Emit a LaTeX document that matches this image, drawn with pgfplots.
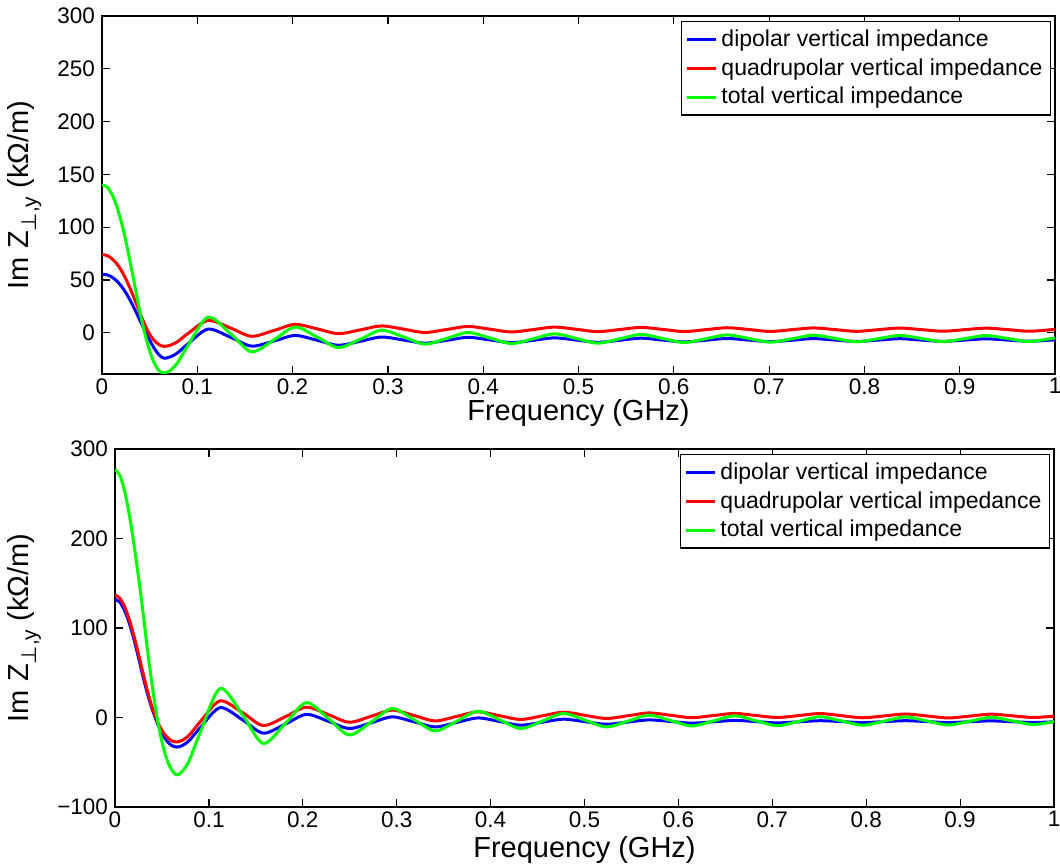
\documentclass[border=0pt]{standalone}
\usepackage{fontspec}
\setmainfont{Liberation Sans}
\newfontfamily\dejavu{DejaVu Sans}
\usepackage{pgfplots}
\pgfplotsset{compat=1.18}
\definecolor{mblue}{rgb}{0,0,1}
\definecolor{mred}{rgb}{1,0,0}
\definecolor{mgreen}{rgb}{0,1,0}
\pgfplotsset{
  mstyle/.style={
    scale only axis, anchor=south west,
    xmin=0, xmax=1, xtick={0,0.1,...,1},
    /pgf/number format/assume math mode=true,
    tick label style={font=\fontsize{11.25}{13.5}\selectfont},
    xticklabel style={inner sep=2pt},
    label style={font=\fontsize{14.5}{17}\selectfont},
    axis line style={line width=0.8pt, black},
    major tick style={line width=0.6pt, black},
    major tick length=4pt,
    tick align=inside,
    xtick pos=both, ytick pos=both,
    legend cell align=left,
    legend style={at={(rel axis cs:1,1)}, anchor=north east, xshift=-2pt, yshift=-2.5pt,
      draw=black, line width=0.6pt, fill=white,
      font=\fontsize{11.5}{13}\selectfont, row sep=0.6pt, inner sep=2pt},
    legend image code/.code={\draw[#1, line width=1.5pt] (0pt,0pt) -- (14.5pt,0pt);},
    every axis plot/.append style={line width=1.5pt, smooth},
    xlabel={Frequency (GHz)},
    ylabel={Im Z\raisebox{-0.55ex}{\fontsize{10.5}{10.5}\selectfont{\dejavu ⊥},y} (kΩ/m)},
  }
}
\begin{document}
\begin{tikzpicture}
\useasboundingbox (0,0) rectangle (530pt,433pt);
% ---------------- top axis ----------------
\begin{axis}[mstyle, at={(51pt,246pt)}, width=476.5pt, height=179pt,
  ymin=-39, ymax=300, ytick={0,50,...,300},
  xlabel style={at={(axis description cs:0.5,-0.108)}, anchor=center, inner sep=0pt},
  ylabel style={at={(axis description cs:-0.0816,0.5)}, anchor=center},
]
\addplot[mblue] table {
0 55.5
0.005 55
0.01 53
0.015 49.5
0.02 44.5
0.025 38
0.03 30
0.035 21
0.04 11.5
0.045 2
0.05 -7
0.055 -15
0.06 -21
0.0647 -24
0.07 -23.3
0.075 -21.4
0.08 -18.5
0.0905 -10.3
0.1113 3.5
0.1358 -4.6
0.1571 -12.6
0.1811 -7.6
0.2027 -2.5
0.2263 -7.2
0.2481 -11.8
0.2716 -7.9
0.2935 -4
0.3169 -6.9
0.3389 -9.8
0.3621 -7.1
0.3842 -4.3
0.4074 -6.8
0.4296 -9.3
0.4527 -7.1
0.4749 -4.8
0.4980 -6.9
0.5202 -9
0.5432 -7.1
0.5654 -5.1
0.5885 -6.9
0.6108 -8.6
0.6337 -7
0.6561 -5.4
0.679 -6.9
0.7013 -8.4
0.7243 -7
0.7465 -5.5
0.7696 -6.9
0.7918 -8.2
0.8149 -6.9
0.8372 -5.6
0.8601 -6.9
0.8824 -8.1
0.9054 -6.9
0.9277 -5.7
0.9506 -6.9
0.9726 -8.0
0.9959 -6.9
1.0 -6.7
};
\addplot[mred] table {
0 74
0.005 73.3
0.01 70.5
0.015 66
0.02 59.5
0.025 51
0.03 41
0.035 30
0.04 18.5
0.045 7.5
0.05 -1.5
0.055 -7.5
0.06 -11.3
0.0647 -12.8
0.07 -12.2
0.075 -10.5
0.08 -7.9
0.0905 -0.5
0.1113 11.7
0.1358 4.2
0.1571 -3.3
0.1811 2.4
0.2027 8
0.2263 3.6
0.2481 -0.8
0.2716 2.9
0.2935 6.5
0.3169 3.4
0.3389 0.3
0.3621 3.2
0.3842 6
0.4074 3.4
0.4296 0.8
0.4527 3.1
0.4749 5.4
0.4980 3.3
0.5202 1.1
0.5432 3.1
0.5654 5.1
0.5885 3.2
0.6108 1.2
0.6337 3
0.6561 4.8
0.679 3.1
0.7013 1.3
0.7243 3
0.7465 4.6
0.7696 3
0.7918 1.4
0.8149 3
0.8372 4.5
0.8601 3
0.8824 1.5
0.9054 3
0.9277 4.4
0.9506 3
0.9726 1.5
0.9959 2.9
1.0 3.1
};
\addplot[mgreen] table {
0 140
0.005 138.3
0.01 132
0.015 121
0.02 106
0.025 87
0.03 65
0.035 42
0.04 19
0.045 -1
0.05 -17
0.055 -29
0.06 -36
0.0647 -38
0.07 -36.7
0.075 -33
0.08 -27.4
0.0905 -11.6
0.1113 14.8
0.1358 -1.6
0.1571 -18
0.1811 -6.3
0.2027 5.5
0.2263 -4.3
0.2481 -14
0.2716 -5.8
0.2935 2.5
0.3169 -4.1
0.3389 -10.7
0.3621 -5.2
0.3842 0.3
0.4074 -5
0.4296 -10.2
0.4527 -5.6
0.4749 -1
0.4980 -5.4
0.5202 -9.8
0.5432 -5.7
0.5654 -1.6
0.5885 -5.4
0.6108 -9.2
0.6337 -5.6
0.6561 -2
0.679 -5.4
0.7013 -8.8
0.7243 -5.6
0.7465 -2.3
0.7696 -5.4
0.7918 -8.5
0.8149 -5.5
0.8372 -2.5
0.8601 -5.4
0.8824 -8.3
0.9054 -5.5
0.9277 -2.6
0.9506 -5.4
0.9726 -8.2
0.9959 -5.4
1.0 -5
};
\legend{dipolar vertical impedance, quadrupolar vertical impedance, total vertical impedance}
\end{axis}
% ---------------- bottom axis ----------------
\begin{axis}[mstyle, at={(57.5pt,29.5pt)}, width=469.5pt, height=179pt,
  ymin=-100, ymax=300, ytick={-100,0,100,200,300},
  yticklabels={−100,0,100,200,300},
  xlabel style={at={(axis description cs:0.5,-0.120)}, anchor=center, inner sep=0pt},
  ylabel style={at={(axis description cs:-0.0968,0.5)}, anchor=center},
]
\addplot[mblue] table {
0 132
0.005 129
0.01 120
0.015 106
0.02 88
0.025 67
0.03 45
0.035 25
0.04 8
0.045 -6
0.05 -17.5
0.055 -26
0.06 -31
0.0651 -33
0.07 -32.1
0.075 -29.2
0.08 -24.7
0.0911 -11
0.1120 11
0.1366 -3.2
0.1580 -17.5
0.1821 -7
0.2039 3.5
0.2276 -4.4
0.2496 -12.3
0.2732 -5.8
0.2952 0.7
0.3187 -4.9
0.3409 -10.5
0.3642 -5.5
0.3865 -0.5
0.4098 -4.5
0.4321 -8.6
0.4553 -5.2
0.4776 -1.9
0.5008 -4.7
0.5232 -7.5
0.5463 -5.1
0.5687 -2.7
0.5919 -4.5
0.6143 -6.3
0.6374 -4.8
0.6599 -3.3
0.6829 -4.6
0.7054 -6
0.7285 -4.8
0.7509 -3.6
0.7740 -4.6
0.7964 -5.7
0.8195 -4.6
0.8420 -3.6
0.8650 -4.6
0.8875 -5.7
0.9106 -4.7
0.9330 -3.8
0.9561 -4.7
0.9783 -5.6
1.0 -4.8
};
\addplot[mred] table {
0 136.8
0.005 133.5
0.01 124.5
0.015 110
0.02 92
0.025 71
0.03 49
0.035 28
0.04 10
0.045 -4
0.05 -14.5
0.055 -21.5
0.06 -25.8
0.0651 -27.3
0.07 -26.3
0.075 -23.3
0.08 -18.6
0.0911 -4.4
0.1120 18.6
0.1366 4.8
0.1580 -9
0.1821 1.2
0.2039 11.5
0.2276 3.1
0.2496 -5.3
0.2732 1.5
0.2952 8.2
0.3187 2.2
0.3409 -3.8
0.3642 1.3
0.3865 6.3
0.4098 2
0.4321 -2.2
0.4553 1.9
0.4776 5.9
0.5008 2.4
0.5232 -1.1
0.5463 2
0.5687 5.1
0.5919 2.5
0.6143 -0.2
0.6374 2.2
0.6599 4.5
0.6829 2.2
0.7054 0
0.7285 2.2
0.7509 4.4
0.7740 2
0.7964 -0.3
0.8195 1.8
0.8420 3.9
0.8650 1.7
0.8875 -0.5
0.9106 1.6
0.9330 3.7
0.9561 1.8
0.9783 0
1.0 1.6
};
\addplot[mgreen] table {
0 277
0.005 271
0.01 254
0.015 228
0.02 195
0.025 157
0.03 116
0.035 72
0.04 33
0.045 -1
0.05 -27
0.055 -46
0.06 -58
0.0651 -64
0.07 -61.9
0.075 -55.6
0.08 -45.8
0.0911 -16
0.1120 32.4
0.1366 1.7
0.1580 -29
0.1821 -6
0.2039 16.6
0.2276 -1.5
0.2496 -19.5
0.2732 -4.8
0.2952 10
0.3187 -2.5
0.3409 -15
0.3642 -4
0.3865 7
0.4098 -2.7
0.4321 -12.3
0.4553 -3.9
0.4776 4.5
0.5008 -3
0.5232 -10.5
0.5463 -4
0.5687 2.6
0.5919 -3.4
0.6143 -9.4
0.6374 -3.8
0.6599 1.8
0.6829 -3.7
0.7054 -9.2
0.7285 -4.2
0.7509 0.8
0.7740 -3.9
0.7964 -8.6
0.8195 -4
0.8420 0.6
0.8650 -3.9
0.8875 -8.4
0.9106 -4.1
0.9330 0.2
0.9561 -3.9
0.9783 -7.9
1.0 -4.5
};
\legend{dipolar vertical impedance, quadrupolar vertical impedance, total vertical impedance}
\end{axis}
\end{tikzpicture}
\end{document}
